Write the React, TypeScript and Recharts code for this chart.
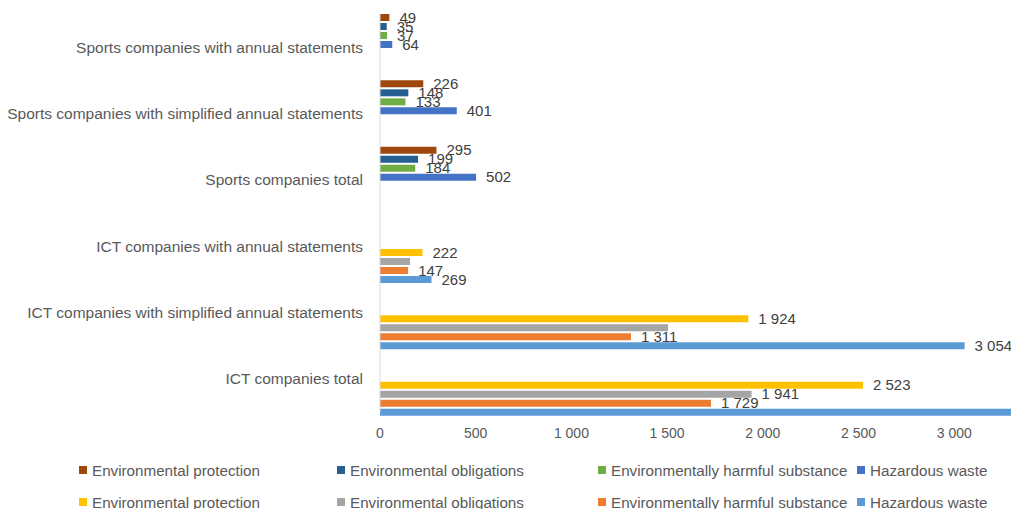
import React from "react";
import { BarChart, Bar, XAxis, YAxis, LabelList } from "recharts";

const categories = [
  "Sports companies with annual statements",
  "Sports companies with simplified annual statements",
  "Sports companies total",
  "ICT companies with annual statements",
  "ICT companies with simplified annual statements",
  "ICT companies total",
];

// Sports series (top half of each band)
const sportsProtection = [49, 226, 295, null, null, null];
const sportsObligations = [35, 148, 199, null, null, null];
const sportsHarmful = [37, 133, 184, null, null, null];
const sportsHazardous = [64, 401, 502, null, null, null];

// ICT series (bottom half of each band)
const ictProtection = [null, null, null, 222, 1924, 2523];
const ictObligations = [null, null, null, 157, 1505, 1941];
const ictObligationsLabels = [null, null, null, null, null, 1941];
const ictHarmful = [null, null, null, 147, 1311, 1729];
const ictHazardous = [null, null, null, 269, 3054, 3900];

const xTicks = [0, 500, 1000, 1500, 2000, 2500, 3000];

const legendRow1 = [
  { name: "Environmental protection", color: "#9E480E" },
  { name: "Environmental obligations", color: "#255E91" },
  { name: "Environmentally harmful substance", color: "#70AD47" },
  { name: "Hazardous waste", color: "#4472C4" },
];
const legendRow2 = [
  { name: "Environmental protection", color: "#FFC000" },
  { name: "Environmental obligations", color: "#A5A5A5" },
  { name: "Environmentally harmful substance", color: "#ED7D31" },
  { name: "Hazardous waste", color: "#5B9BD5" },
];
const legendX = [79, 337, 598, 857];

const data = categories.map((c, i) => ({
  category: c,
  sProt: sportsProtection[i],
  sObl: sportsObligations[i],
  sHarm: sportsHarmful[i],
  sHaz: sportsHazardous[i],
  iProt: ictProtection[i],
  iObl: ictObligations[i],
  iOblLabel: ictObligationsLabels[i],
  iHarm: ictHarmful[i],
  iHaz: ictHazardous[i],
}));

const fmt = (v: any) =>
  v == null ? "" : String(v).replace(/\B(?=(\d{3})+(?!\d))/g, " ");

const FONT = "'Liberation Sans', Arial, sans-serif";

const labelStyle = { fill: "#404040", fontSize: 15 };

function LegendRows() {
  const rows = [legendRow1, legendRow2];
  const tops = [470, 502];
  return (
    <>
      {rows.map((row, r) =>
        row.map((item, k) => (
          <div
            key={r + "-" + k}
            style={{
              position: "absolute",
              left: legendX[k],
              top: tops[r] - 9,
              height: 18,
              display: "flex",
              alignItems: "center",
              fontFamily: FONT,
              fontSize: 15.2,
              color: "#595959",
              whiteSpace: "nowrap",
            }}
          >
            <span
              style={{
                display: "inline-block",
                width: 8,
                height: 8,
                background: item.color,
                marginRight: 5,
              }}
            />
            {item.name}
          </div>
        ))
      )}
    </>
  );
}

export default function App() {
  return (
    <div
      style={{
        position: "absolute",
        left: 0,
        top: 0,
        width: 1011,
        height: 509,
        overflow: "hidden",
        background: "#ffffff",
      }}
    >
      <BarChart
        width={1050}
        height={509}
        data={data}
        layout="vertical"
        margin={{ top: 14, right: 0, bottom: 67, left: 0 }}
        barCategoryGap={0}
        barGap={2}
        style={{ fontFamily: FONT }}
      >
        <XAxis
          type="number"
          domain={[0, 3500]}
          ticks={xTicks}
          allowDataOverflow
          axisLine={false}
          tickLine={false}
          tickSize={0}
          tickMargin={16}
          height={30}
          tick={{ fill: "#595959", fontSize: 14 }}
          tickFormatter={fmt}
          interval={0}
        />
        <YAxis
          type="category"
          dataKey="category"
          width={380}
          axisLine={{ stroke: "#D9D9D9", strokeWidth: 1 }}
          tickLine={false}
          tickSize={0}
          tickMargin={17}
          tick={{ fill: "#595959", fontSize: 15.5 }}
          interval={0}
        />
        <Bar dataKey="sProt" fill="#9E480E" isAnimationActive={false}>
          <LabelList dataKey="sProt" position="right" offset={10} formatter={fmt} style={labelStyle} />
        </Bar>
        <Bar dataKey="sObl" fill="#255E91" isAnimationActive={false}>
          <LabelList dataKey="sObl" position="right" offset={10} formatter={fmt} style={labelStyle} />
        </Bar>
        <Bar dataKey="sHarm" fill="#70AD47" isAnimationActive={false}>
          <LabelList dataKey="sHarm" position="right" offset={10} formatter={fmt} style={labelStyle} />
        </Bar>
        <Bar dataKey="sHaz" fill="#4472C4" isAnimationActive={false}>
          <LabelList dataKey="sHaz" position="right" offset={10} formatter={fmt} style={labelStyle} />
        </Bar>
        <Bar dataKey="iProt" fill="#FFC000" isAnimationActive={false}>
          <LabelList dataKey="iProt" position="right" offset={10} formatter={fmt} style={labelStyle} />
        </Bar>
        <Bar dataKey="iObl" fill="#A5A5A5" isAnimationActive={false}>
          <LabelList dataKey="iOblLabel" position="right" offset={10} formatter={fmt} style={labelStyle} />
        </Bar>
        <Bar dataKey="iHarm" fill="#ED7D31" isAnimationActive={false}>
          <LabelList dataKey="iHarm" position="right" offset={10} formatter={fmt} style={labelStyle} />
        </Bar>
        <Bar dataKey="iHaz" fill="#5B9BD5" isAnimationActive={false}>
          <LabelList dataKey="iHaz" position="right" offset={10} formatter={fmt} style={labelStyle} />
        </Bar>
      </BarChart>
      <LegendRows />
    </div>
  );
}
